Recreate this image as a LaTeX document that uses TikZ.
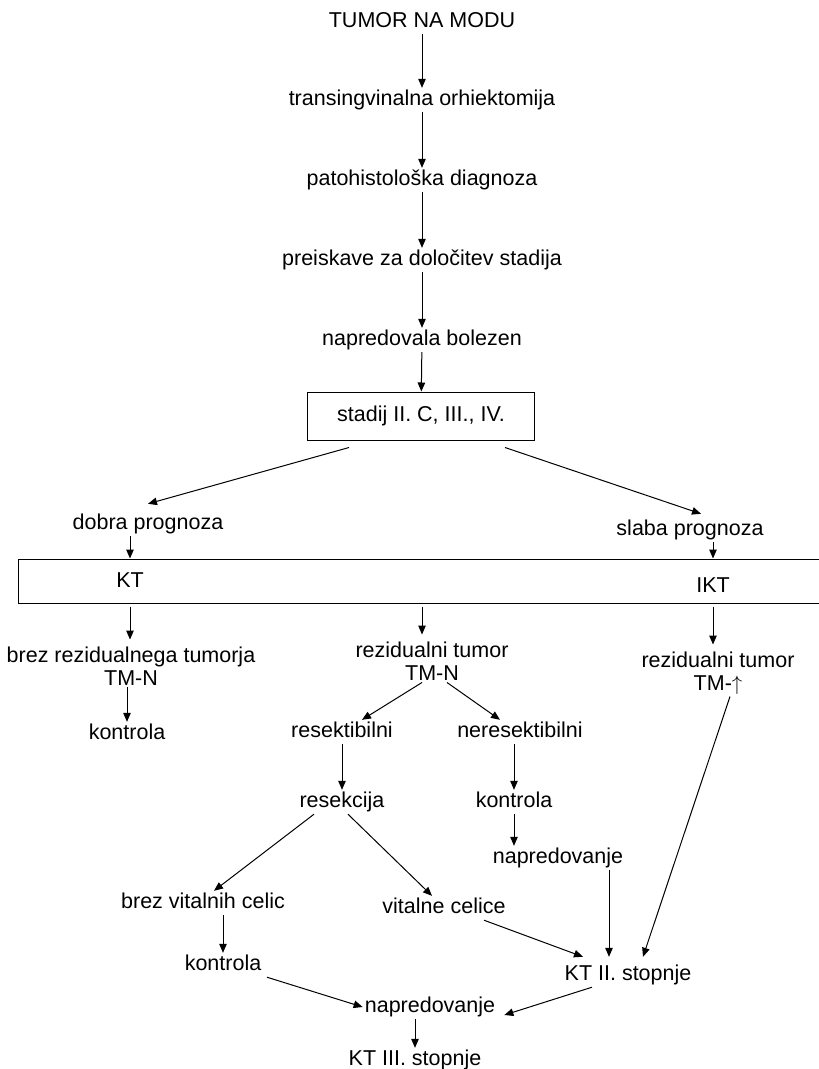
\documentclass[tikz,border=0pt]{standalone}
\usepackage{fontspec}
\setmainfont{Liberation Sans}
\usetikzlibrary{arrows.meta}
\tikzset{%
   txt/.style={inner sep=2pt, font=\fontsize{21.5pt}{23pt}\selectfont},
   lbl/.style={txt, text height=15.5pt, text depth=4.5pt},
   two/.style={txt, align=center},
   frame/.style={draw, line width=1pt},
   arr/.style={-{Triangle[length=9pt,width=7.5pt]}, line width=1pt},
   down/.style={arr, shorten <=3pt, shorten >=5pt},
}
\begin{document}
\begin{tikzpicture}[x=1pt, y=-1pt]
      \useasboundingbox (0,0) rectangle (819,1069);
      \node[lbl] (tumor) at (422,22) {TUMOR NA MODU};
      \node[lbl] (orhi) at (422,100) {transingvinalna orhiektomija};
      \node[lbl] (pato) at (422,180) {patohistološka diagnoza};
      \node[lbl] (preisk) at (422,260) {preiskave za določitev stadija};
      \node[lbl] (napbol) at (422,340) {napredovala bolezen};
      \node[lbl, frame, minimum width=227pt, minimum height=48pt] (stadij) at (421,416) {stadij II. C, III., IV.};
      \node[lbl] (dobra) at (148,524) {dobra prognoza};
      \node[lbl] (slaba) at (690,530) {slaba prognoza};
      \node[frame, minimum width=817pt, minimum height=44pt, inner sep=0pt] (ktbox) at (426.5,581) {};
      \node[lbl] (kt) at (130,582) {KT};
      \node[lbl] (ikt) at (713,587) {IKT};
      \node[two] (brez) at (131,666) {brez rezidualnega tumorja\\TM-N};
      \node[two] (rez) at (432,661) {rezidualni tumor\\TM-N};
      \node[two] (rezr) at (718,673) {rezidualni tumor\\TM-$\uparrow$};
      \node[lbl] (kontrolaa) at (127,734) {kontrola};
      \node[lbl] (resekt) at (342,732) {resektibilni};
      \node[lbl] (neresekt) at (520,732) {neresektibilni};
      \node[lbl] (resekcija) at (342,802) {resekcija};
      \node[lbl] (kontrolab) at (514,802) {kontrola};
      \node[lbl] (napreda) at (558,858) {napredovanje};
      \node[lbl] (brezvit) at (203,903) {brez vitalnih celic};
      \node[lbl] (vitalne) at (444,908) {vitalne celice};
      \node[lbl] (kontrolac) at (223,965) {kontrola};
      \node[lbl] (ktii) at (628,975) {KT II. stopnje};
      \node[lbl] (napredb) at (430,1007) {napredovanje};
      \node[lbl] (ktiii) at (415,1060) {KT III. stopnje};
      \draw[arr] (tumor) -- (orhi);
      \draw[arr] (orhi) -- (pato);
      \draw[arr] (pato) -- (preisk);
      \draw[arr] (preisk) -- (napbol);
      \draw[arr] (napbol) -- (stadij);
      \draw[arr] ([xshift=-72pt,yshift=-7pt]stadij.south) -- ([yshift=8pt]dobra.north);
      \draw[arr] ([xshift=84pt,yshift=-7pt]stadij.south) -- ([xshift=11pt,yshift=4pt]slaba.north);
      \draw[arr] (dobra.south -| kt) -- (ktbox.north -| kt);
      \draw[arr] (slaba.south -| ikt) -- (ktbox.north -| ikt);
      \draw[down] (ktbox.south -| kt) -- (brez.north -| kt);
      \draw[down] (ktbox.south -| napbol) -- (rez.north -| napbol);
      \draw[down] (ktbox.south -| ikt) -- (rezr.north -| ikt);
      \draw[arr] (brez.south -| kontrolaa) -- (kontrolaa);
      \draw[arr] ([xshift=-10pt]rez.south) -- ([xshift=20pt]resekt.north);
      \draw[arr] ([xshift=15pt]rez.south) -- ([xshift=-20pt]neresekt.north);
      \draw[arr] (resekt) -- (resekcija);
      \draw[arr] (neresekt.south -| kontrolab) -- (kontrolab);
      \draw[arr] (kontrolab) -- (napreda.north -| kontrolab);
      \draw[arr] ([xshift=-28pt]resekcija.south) -- ([xshift=11pt]brezvit.north);
      \draw[arr] ([xshift=6pt]resekcija.south) -- ([xshift=-12pt]vitalne.north);
      \draw[arr] (brezvit.south -| kontrolac) -- (kontrolac);
      \draw[arr] ([xshift=40pt]vitalne.south) -- ([xshift=-45pt,yshift=6pt]ktii.north);
      \draw[arr] ([xshift=51pt]napreda.south) -- ([xshift=-19pt,yshift=6pt]ktii.north);
      \draw[arr] ([xshift=12pt]rezr.south) -- ([xshift=15pt,yshift=6pt]ktii.north);
      \draw[arr] ([xshift=44pt]kontrolac.south) -- (napredb.west);
      \draw[arr] ([xshift=-36pt]ktii.south) -- ([xshift=7pt,yshift=-8pt]napredb.east);
      \draw[arr] (napredb.south -| ktiii) -- (ktiii);
\end{tikzpicture}
\end{document}
